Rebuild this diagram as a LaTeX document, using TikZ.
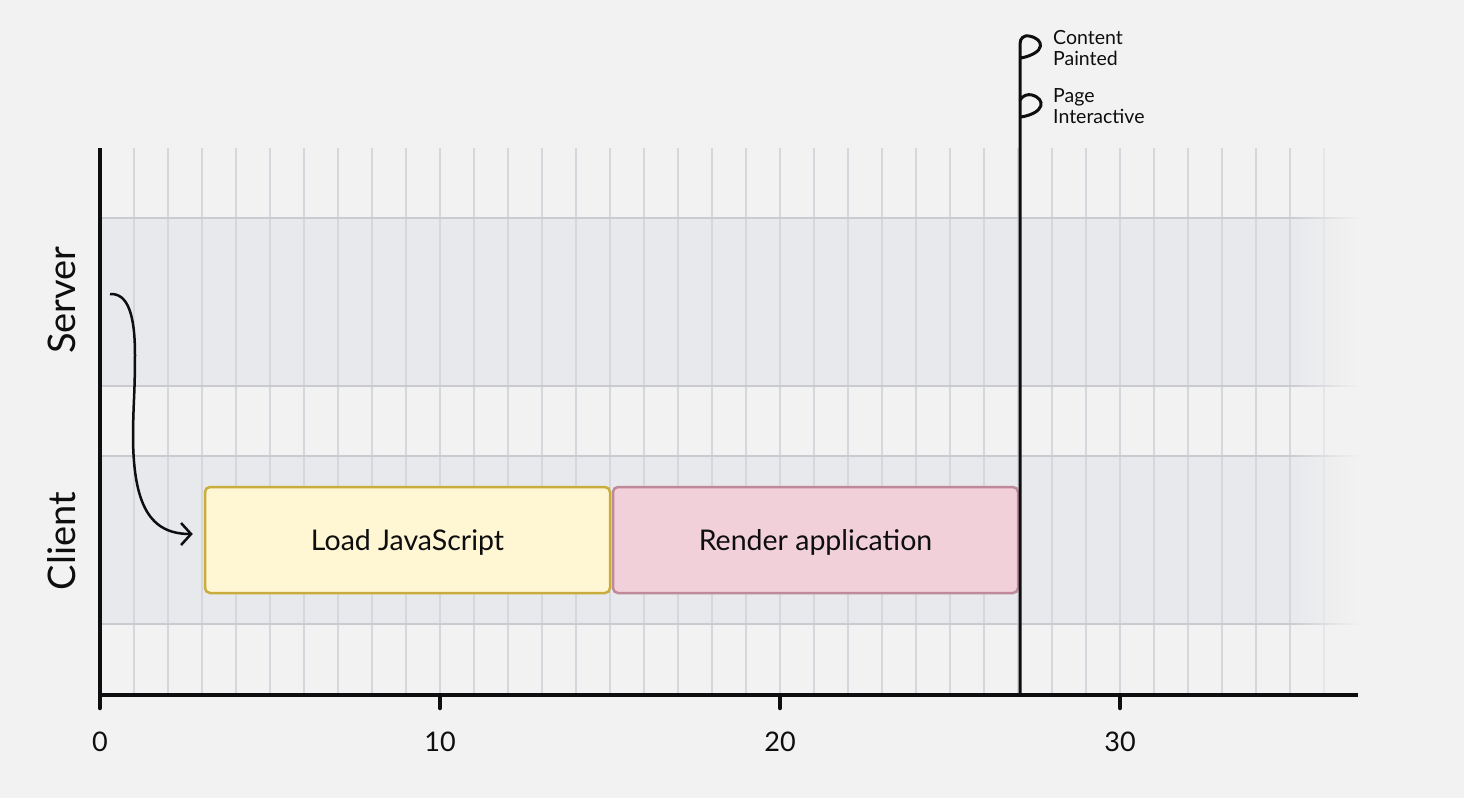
\documentclass[tikz,border=0pt]{standalone}
\usepackage{fontspec}
\setmainfont{Lato}
\usetikzlibrary{arrows.meta,positioning,calc}
\definecolor{tlBg}{HTML}{F2F2F2}
\definecolor{tlBand}{HTML}{E8E9EC}
\definecolor{tlGrid}{HTML}{D6D7DD}
\definecolor{tlBorder}{HTML}{CACBD0}
\definecolor{tlInk}{HTML}{0E0E10}
\definecolor{tlYellow}{HTML}{FFF6D3}
\definecolor{tlYellowBd}{HTML}{C9AD3C}
\definecolor{tlPink}{HTML}{F2D0DA}
\definecolor{tlPinkBd}{HTML}{BE8998}
\tikzset{
  task/.style={rounded corners=5pt, line width=2.5pt, minimum width=405pt, minimum height=106pt, inner sep=0pt, text height=20pt, text depth=0pt, font=\fontsize{28.5}{32}\selectfont, text=tlInk},
  taskY/.style={task, fill=tlYellow, draw=tlYellowBd},
  taskP/.style={task, fill=tlPink, draw=tlPinkBd},
  gridln/.style={draw=tlGrid, line width=1.5pt},
  lanebd/.style={draw=tlBorder, line width=1.5pt},
  axisln/.style={draw=tlInk, line width=4pt},
  tickmk/.style={draw=tlInk, line width=4.5pt, line cap=round},
  ticklbl/.style={font=\fontsize{27}{30}\selectfont, text=tlInk, inner sep=0pt},
  lane/.style={rotate=90, anchor=base, inner sep=0pt, font=\fontsize{38}{42}\selectfont, text=tlInk},
  flagtxt/.style={anchor=west, align=left, inner sep=0pt, font=\fontsize{19.5}{21}\selectfont, text=tlInk},
  arr/.style={-{Straight Barb[length=10pt, width=22pt, line width=2.5pt]}, line width=2.5pt, draw=tlInk},
}
\begin{document}
\begin{tikzpicture}[x=1pt, y=-1pt]
  % background
  \fill[tlBg] (0,0) rectangle (1464,798);
  % lanes
  \foreach \ytop in {217,455} {
    \fill[tlBand] (100,\ytop) rectangle (1290,\ytop+168);
    \shade[left color=tlBand, right color=tlBg, draw=none] (1290,\ytop) rectangle (1360,\ytop+168);
  }
  % grid
  \foreach \k in {1,...,35}
    \draw[gridln] ({100+34*\k},148) -- ({100+34*\k},695);
  \draw[gridln, draw=tlGrid!45!tlBg] (1324,148) -- (1324,695);
  % lane borders
  \foreach \yb in {218,386,456,624} {
    \draw[lanebd] (100,\yb) -- (1290,\yb);
    \shade[left color=tlBorder, right color=tlBg, draw=none] (1290,\yb-0.75) rectangle (1360,\yb+0.75);
  }
  % lane labels
  \node[lane] (server) at (75,300) {Server};
  \node[lane] (client) at (75,541) {Client};
  % tasks
  \node[taskY] (js) at (407.5,540) {Load JavaScript};
  \node[taskP] (render) at (815.5,540) {Render application};
  % request arrow
  \coordinate (req) at (110,294);
  \draw[arr] (req) .. controls (128,293) and (135,315) .. (135,355)
    .. controls (135,395) and (133,405) .. (133,440)
    .. controls (134,505) and (150,534) .. ([xshift=-11pt, yshift=6pt]js.west);
  % axes
  \draw[axisln] (100,148) -- (100,697);
  \draw[axisln] (98,695) -- (1358,695);
  \draw[tickmk] (100,697) -- (100,708);
  \draw[tickmk] (440,697) -- (440,708);
  \draw[tickmk] (780,697) -- (780,708);
  \draw[tickmk] (1120,697) -- (1120,708);
  \node[ticklbl] (t0) at (100,742) {0};
  \node[ticklbl] (t10) at (440,742) {10};
  \node[ticklbl] (t20) at (780,742) {20};
  \node[ticklbl] (t30) at (1120,742) {30};
  % milestone line with flags
  \coordinate (done) at (1020,695);
  \draw[tlInk, line width=3pt, line cap=round, line join=round]
    (done) -- (1020,44) .. controls (1020,38) and (1024,35) .. (1029,36)
    .. controls (1045,39) and (1046,53) .. (1021,58);
  \draw[tlInk, line width=3pt, line cap=round]
    (1020,100) .. controls (1023,95) and (1028,94) .. (1032,95)
    .. controls (1046,99) and (1045,113) .. (1021,117);
  \node[flagtxt] (painted) at (1053,48) {Content\\Painted};
  \node[flagtxt] (interactive) at (1053,106) {Page\\Interactive};
\end{tikzpicture}
\end{document}
